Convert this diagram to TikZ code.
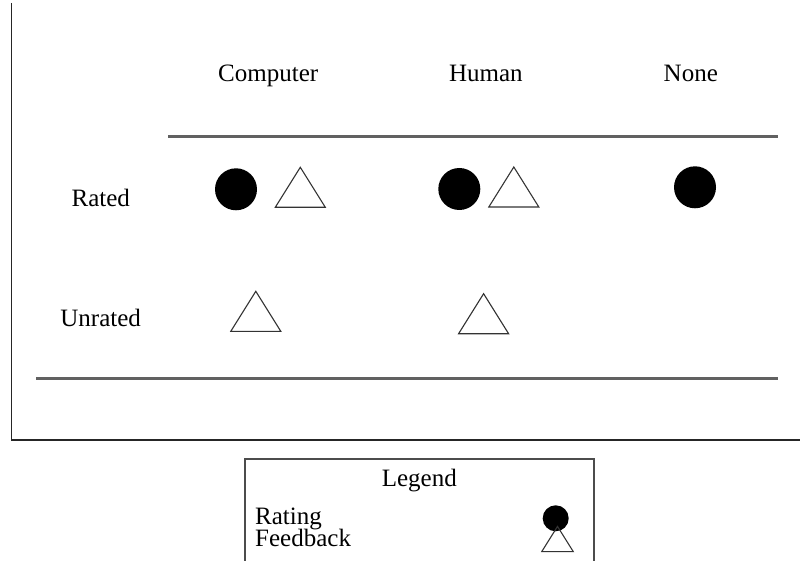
\documentclass[tikz,border=0pt]{standalone}
\usepackage{fontspec}
\setmainfont{Liberation Serif}
\begin{document}
\begin{tikzpicture}[x=1pt,y=-1pt,
  lbl/.style={inner sep=0pt,anchor=base,font=\fontsize{25}{30}\selectfont},
  rating/.style={circle,fill=black,inner sep=0pt,minimum size=42pt},
  rule/.style={draw=black!62,line width=2.1pt},
  frameline/.style={draw=black!85,line width=1.8pt},
  fb/.pic={\draw[line width=1.1pt,draw=black!80,line join=miter]
      (-25,20) -- (0,-20) -- (25,20) -- cycle;}]
  \useasboundingbox (0,0) rectangle (800,561);
  \clip (0,0) rectangle (800,561);

  % outer frame (left and bottom edges)
  \coordinate (ftop) at (11.5,3);
  \coordinate (fcorner) at (11.5,440);
  \coordinate (fright) at (800,440);
  \draw[frameline] (ftop) -- (fcorner) -- (fright);

  % column headings
  \node[lbl] (hcomp) at (268.2,81.7) {Computer};
  \node[lbl] (hhum) at (485.8,81.7) {Human};
  \node[lbl] (hnone) at (690.8,81.7) {None};

  % table rules
  \coordinate (r1a) at (168,136.5);
  \coordinate (r1b) at (778,136.5);
  \draw[rule] (r1a) -- (r1b);
  \coordinate (r2a) at (36,378.5);
  \coordinate (r2b) at (778,378.5);
  \draw[rule] (r2a) -- (r2b);

  % row headings
  \node[lbl] (rrated) at (100.8,206.7) {Rated};
  \node[lbl] (runrated) at (100.7,326.7) {Unrated};

  % rated row
  \node[rating] (c1) at (236,189.3) {};
  \pic (t1) at (300.3,187.3) {fb};
  \node[rating] (c2) at (459.3,189) {};
  \pic (t2) at (513.8,187) {fb};
  \node[rating] (c3) at (695,187.3) {};

  % unrated row
  \pic (t3) at (255.8,311.3) {fb};
  \pic (t4) at (483.6,313.7) {fb};

  % legend
  \coordinate (lgA) at (245,459);
  \coordinate (lgB) at (594,575);
  \draw[draw=black!70,line width=1.5pt] (lgA) rectangle (lgB);
  \node[lbl] (lgtitle) at (419.3,486) {Legend};
  \node[lbl,anchor=base west] (lgrating) at (255,524) {Rating};
  \node[lbl,anchor=base west] (lgfeedback) at (255,546.7) {Feedback};
  \node[rating,minimum size=26pt] (lgcircle) at (555.7,518.3) {};
  \pic[scale=0.63] (lgtri) at (557.5,539) {fb};
\end{tikzpicture}
\end{document}
